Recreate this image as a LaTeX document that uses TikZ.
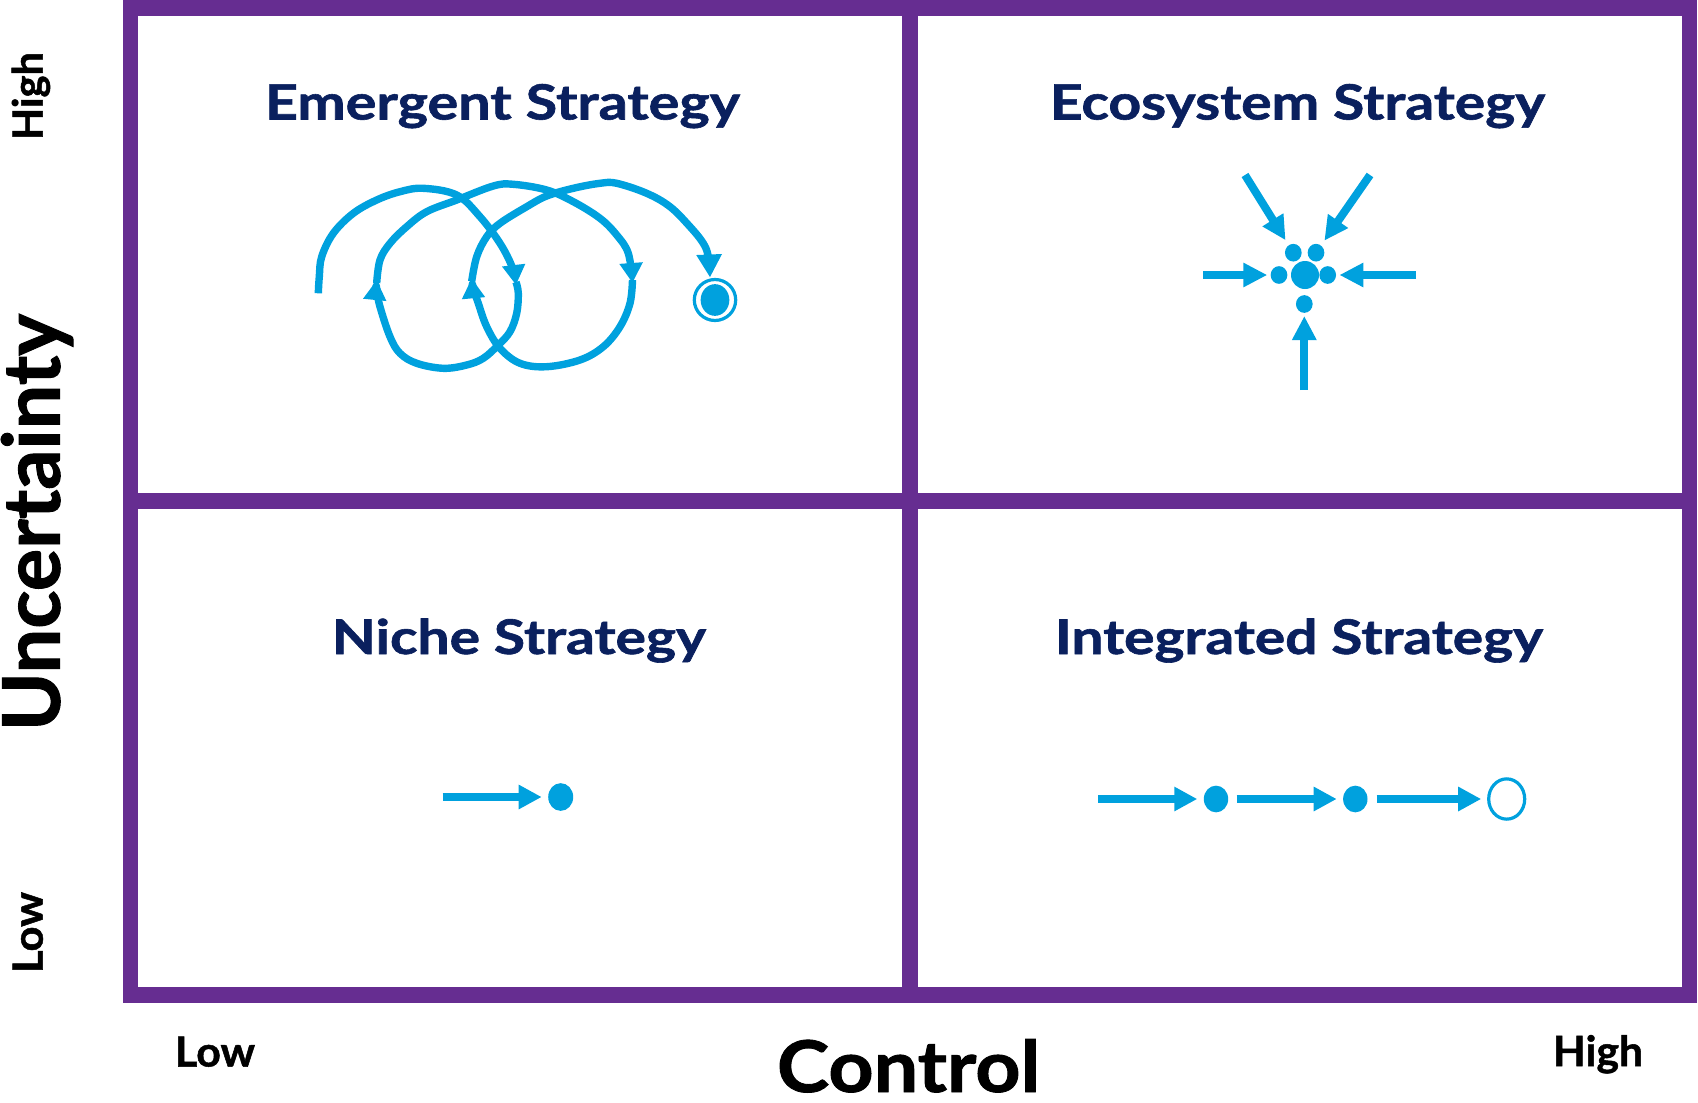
\documentclass[tikz,border=0pt]{standalone}
\usepackage{fontspec}
\setmainfont{Lato}[BoldFeatures={FakeBold=1.2}]
\usepackage{graphicx}
\usetikzlibrary{arrows.meta,shapes.geometric}
\definecolor{framec}{RGB}{102,45,145}
\definecolor{navyc}{RGB}{10,32,94}
\definecolor{skyc}{RGB}{0,161,222}
\newcommand\fitwh[3]{\resizebox{#1}{#2}{#3}}
\begin{document}
\begin{tikzpicture}[x=1pt,y=-1pt,
  titletext/.style={font=\bfseries, text=navyc, inner sep=0pt, outer sep=0pt, anchor=base},
  axistext/.style={font=\bfseries, text=black, inner sep=0pt, outer sep=0pt, anchor=base},
  frameline/.style={draw=framec, line width=15.5},
  curve/.style={draw=skyc, line width=7.4, line cap=butt, line join=round},
  midtip/.style={-{Triangle[length=20pt,width=22pt]}},
  endtip/.style={-{Triangle[length=23pt,width=24pt]}},
  flowarrow/.style={draw=skyc, line width=7.8, -{Triangle[length=23pt,width=23pt]}},
  ecoarrow/.style={draw=skyc, line width=8, -{Triangle[length=24pt,width=23pt]}},
  dotnode/.style={ellipse, fill=skyc, inner sep=0pt, outer sep=0pt},
  ringnode/.style={ellipse, draw=skyc, line width=3.2, fill=white, inner sep=0pt, outer sep=0pt}
]
\useasboundingbox (0,0) rectangle (1698,1103);

% frame and quadrants
\draw[frameline] (130.3,7.75) rectangle (1689.5,995.2);
\draw[frameline, line width=16] (909.7,7.75) -- (909.7,995.2);
\draw[frameline, line width=16] (130.3,501) -- (1689.5,501);

% titles
\node[titletext] (tEm) at (502.5,119.5) {\fitwh{475pt}{35.5pt}{Emergent Strategy}};
\node[titletext] (tEc) at (1297.5,119.5) {\fitwh{495pt}{35.5pt}{Ecosystem Strategy}};
\node[titletext] (tNi) at (519,654) {\fitwh{374pt}{35.5pt}{Niche Strategy}};
\node[titletext] (tIn) at (1299,654) {\fitwh{488pt}{35.5pt}{Integrated Strategy}};

% axis labels
\node[axistext] (xlab) at (908.5,1092) {\fitwh{263pt}{53pt}{Control}};
\node[axistext] (xlow) at (215,1066.5) {\fitwh{80pt}{30pt}{Low}};
\node[axistext] (xhigh) at (1598,1066) {\fitwh{90pt}{31pt}{High}};
\node[axistext, rotate=90] (yhigh) at (42.7,96) {\fitwh{88pt}{31pt}{High}};
\node[axistext, rotate=90] (ylow) at (42.7,932.5) {\fitwh{81pt}{30pt}{Low}};
\node[font=\bfseries, inner sep=0pt, rotate=90] (ylab) at (37,522.5) {\resizebox{417pt}{!}{Uncertainty}};

% ---------- Emergent strategy: looping path ----------
\draw[curve, midtip] plot[smooth, tension=0.6] coordinates {
  (318.3,293.3) (319.3,276.7) (321.7,256.7) (333.3,233.3) (353.3,213.3)
  (376.7,200) (400,191.7) (423.3,188.3) (456.7,195) (480,216.7)
  (500,243.3) (512,266.7) (516,285)};
\draw[curve, midtip] plot[smooth, tension=0.6] coordinates {
  (516,282) (518.3,293.3) (516.7,313.3) (510,331.7) (498.3,345) (483.3,358.3)
  (466.7,365) (443.3,368.3) (416.7,363.3) (400,353.3) (390,336.7)
  (380,306.7) (376.7,290) (376.7,280)};
\draw[curve, midtip] plot[smooth, tension=0.6] coordinates {
  (376.7,283) (380,260) (390,243.3) (406.7,226.7) (426.7,211.7) (456.7,200)
  (493.3,186) (513.3,184.3) (546.7,190) (573.3,201.7) (600,218.3)
  (616.7,235) (628.3,253.3) (632.5,283)};
\draw[curve, midtip] plot[smooth, tension=0.6] coordinates {
  (632.5,280) (630,303.3) (620,326.7) (603.3,346.7) (580,360) (546.7,366.7)
  (520,363.3) (500,348.3) (486.7,326.7) (478.3,303.3) (473.3,288)
  (471.7,278.3)};
\node[ringnode, minimum width=41.4pt, minimum height=41pt] (ring) at (715,300) {};
\node[dotnode, minimum width=28.7pt, minimum height=31.7pt] (goal) at (715,300) {};
\coordinate (goaltip) at (710,277.5);
\draw[curve, endtip] plot[smooth, tension=0.6] coordinates {
  (471.7,281.3) (476.7,256.7) (486.7,236.7) (500,223.3) (526.7,206.7)
  (546.7,196) (573.3,188.3) (600,183.3) (616.7,183.3) (646.7,193.3)
  (670,206.7) (690,226.7) (703.3,243.3) (708.3,256.7) (goaltip)};

% ---------- Ecosystem strategy ----------
\node[dotnode, minimum width=28pt, minimum height=28pt] (ecoC) at (1305,275) {};
\node[dotnode, minimum width=16.7pt, minimum height=17.7pt] (ecoTL) at (1293.3,252.7) {};
\node[dotnode, minimum width=16.7pt, minimum height=17.7pt] (ecoTR) at (1316,252.7) {};
\node[dotnode, minimum width=16.7pt, minimum height=17.7pt] (ecoL) at (1279,275) {};
\node[dotnode, minimum width=16.7pt, minimum height=17.7pt] (ecoR) at (1327.7,275) {};
\node[dotnode, minimum width=16.7pt, minimum height=17.7pt] (ecoB) at (1304.3,304) {};
\coordinate (sL) at (1203.3,275);
\coordinate (sR) at (1416,275);
\coordinate (sB) at (1304.3,390);
\coordinate (sTL) at (1245,175);
\coordinate (sTR) at (1370,175);
\draw[ecoarrow, shorten >=3.4pt] (sL) -- (ecoL);
\draw[ecoarrow, shorten >=3.4pt] (sR) -- (ecoR);
\draw[ecoarrow, shorten >=3.2pt] (sB) -- (ecoB);
\draw[ecoarrow, shorten >=6pt] (sTL) -- (ecoTL);
\draw[ecoarrow, shorten >=6pt] (sTR) -- (ecoTR);

% ---------- Niche strategy ----------
\node[dotnode, minimum width=25pt, minimum height=27.7pt] (niD) at (560.7,797) {};
\coordinate (niS) at (442.7,797);
\draw[flowarrow, shorten >=6.5pt] (niS) -- (niD);

% ---------- Integrated strategy ----------
\node[dotnode, minimum width=24.4pt, minimum height=26.7pt] (inD1) at (1216,799) {};
\node[dotnode, minimum width=24.4pt, minimum height=26.7pt] (inD2) at (1355.3,799) {};
\node[ringnode, minimum width=36pt, minimum height=40.3pt] (inEnd) at (1506.7,799) {};
\coordinate (inS) at (1098.3,799);
\draw[flowarrow, shorten >=6.5pt] (inS) -- (inD1);
\draw[flowarrow, shorten <=8.5pt, shorten >=6.4pt] (inD1) -- (inD2);
\draw[flowarrow, shorten <=9.2pt, shorten >=7.5pt] (inD2) -- (inEnd);
\end{tikzpicture}
\end{document}
